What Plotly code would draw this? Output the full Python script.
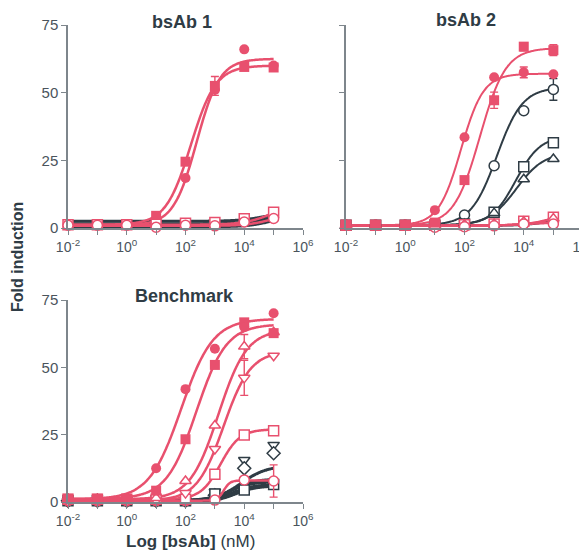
import numpy as np
import plotly.graph_objects as go

# ---------------- data ----------------
conc = [0.01, 0.1, 1, 10, 100, 1000, 10000, 100000]

# bsAb 1 (measured points)
b1_red_circle = [1.0, 1.0, 1.0, 2.5, 18.5, 51.0, 66.0, 60.0]
b1_red_square = [1.2, 1.2, 1.2, 4.5, 24.5, 52.5, 59.5, 59.3]
b1_red_square_err = [0, 0, 0, 0, 0, 3.5, 0, 0]
b1_red_open_square = [1.2, 1.2, 1.2, 1.4, 1.8, 2.0, 3.4, 5.8]
b1_red_open_circle = [1.0, 1.0, 1.0, 0.3, 1.0, 0.8, 2.2, 3.5]

# bsAb 2
b2_red_square = [1.0, 1.0, 1.0, 2.0, 17.7, 47.2, 67.0, 65.7]
b2_red_square_err = [0, 0, 0, 0, 0, 3.0, 1.5, 2.0]
b2_red_circle = [1.0, 1.0, 1.0, 6.6, 33.5, 55.7, 57.5, 56.8]
b2_red_circle_err = [0, 0, 0, 0, 0, 0, 2.0, 0]
b2_dark_open_circle = [1.0, 1.0, 1.0, 1.2, 4.8, 23.0, 43.3, 51.2]
b2_dark_open_circle_err = [0, 0, 0, 0, 0, 0, 0, 4.0]
b2_dark_open_square = [1.0, 1.0, 1.0, 1.0, 1.5, 5.8, 22.6, 31.5]
b2_dark_open_triangle = [1.0, 1.0, 1.0, 1.0, 1.5, 5.5, 18.0, 25.5]
b2_red_open_square = [1.0, 1.0, 1.0, 1.0, 1.2, 1.5, 2.5, 4.0]
b2_red_open_triangle = [1.0, 1.0, 1.0, 1.0, 1.2, 1.5, 2.3, 3.5]
b2_red_open_circle = [1.0, 1.0, 1.0, 0.3, 0.5, 0.8, 1.5, 1.5]

# Benchmark
bm_red_circle = [1.0, 1.0, 1.0, 12.5, 41.9, 56.9, 65.0, 70.1]
bm_red_square = [1.2, 1.2, 1.2, 4.2, 23.3, 50.9, 66.7, 62.7]
bm_red_open_tri_up = [1.0, 1.0, 1.0, 1.5, 7.8, 28.4, 57.7, 63.0]
bm_red_open_tri_up_err = [0, 0, 0, 0, 0, 0, 4.5, 0]
bm_red_open_tri_down = [0.3, 0.3, 0.3, 0.5, 3.3, 19.7, 46.1, 54.3]
bm_red_open_tri_down_err = [0, 0, 0, 0, 0, 0, 6.5, 0]
bm_red_open_square = [1.0, 1.0, 1.0, 1.0, 1.0, 10.3, 24.9, 26.5]
bm_red_open_circle = [0.5, 0.5, 0.5, 0.5, 0.5, 0.7, 8.2, 7.8]
bm_red_open_circle_err = [0, 0, 0, 0, 0, 0, 0, 6.0]
bm_dark_open_tri_down = [0.5, 0.5, 0.5, 0.5, 0.5, 3.8, 15.6, 21.2]
bm_dark_open_diamond = [0.5, 0.5, 0.5, 0.5, 0.5, 2.5, 12.5, 18.1]
bm_dark_open_square = [0.5, 0.5, 0.5, 0.5, 0.5, 3.0, 4.5, 6.5]

# 4-parameter logistic fits: [bottom, top, logEC50, hill]
fit_b1_red_circle = [1.0, 62.5, 2.38, 1.1]
fit_b1_red_square = [1.2, 60.0, 2.18, 1.02]
fit_b1_red_open_square = [1.2, 10.0, 5.0, 0.9]
fit_b1_red_open_circle = [0.8, 6.0, 5.0, 1.0]
fit_b1_dark = [[2.5, 6.0, 4.7, 1.0], [1.5, 5.5, 4.8, 1.0], [0.5, 4.0, 4.8, 1.2]]

fit_b2_red_square = [1.0, 66.5, 2.52, 1.0]
fit_b2_red_circle = [1.0, 57.0, 1.88, 1.15]
fit_b2_dark_open_circle = [1.0, 52.0, 3.09, 1.0]
fit_b2_dark_open_square = [1.0, 34.0, 3.73, 1.05]
fit_b2_dark_open_triangle = [1.0, 28.0, 3.75, 0.93]
fit_b2_red_open_square = [1.0, 8.0, 5.2, 0.9]
fit_b2_red_open_triangle = [1.0, 7.0, 5.2, 0.9]
fit_b2_red_open_circle = [0.8, 2.0, 4.0, 1.0]
fit_b2_dark = [[1.0, 5.0, 5.0, 1.0], [0.8, 4.0, 4.9, 1.0]]

fit_bm_red_circle = [1.0, 68.0, 1.85, 0.8]
fit_bm_red_square = [1.2, 66.0, 2.37, 0.85]
fit_bm_red_open_tri_up = [1.0, 64.0, 3.12, 0.9]
fit_bm_red_open_tri_down = [0.5, 56.0, 3.30, 0.95]
fit_bm_red_open_square = [1.0, 27.0, 3.19, 1.31]
fit_bm_red_open_circle = [0.5, 8.0, 3.3, 4.0]
fit_bm_dark_open_tri_down = [0.5, 13.5, 3.9, 1.0]
fit_bm_dark_open_diamond = [0.5, 8.5, 3.6, 1.2]
fit_bm_dark_open_square = [0.5, 7.5, 3.5, 1.2]
fit_bm_dark = [[0.3, 6.5, 3.6, 1.2], [0.0, 6.0, 3.7, 1.2]]

x_tickvals = [0.01, 0.1, 1, 10, 100, 1000, 10000, 100000, 1000000]
x_ticktext = ["10<sup>-2</sup>", "", "10<sup>0</sup>", "", "10<sup>2</sup>", "",
              "10<sup>4</sup>", "", "10<sup>6</sup>"]
y_tickvals = [0, 25, 50, 75]
panel_titles = ["bsAb 1", "bsAb 2", "Benchmark"]

# ---------------- style ----------------
RED = "#E8506E"
DARK = "#2F3C45"
AXIS = "#7E868C"
TXT = "#4A545C"
FONT = "Liberation Sans"

fig = go.Figure()
xfit = np.logspace(-2, 5, 200)


def logistic(p):
    b, t, c, h = p
    return b + (t - b) / (1 + 10 ** (h * (c - np.log10(xfit))))


def curve(p, color, ax, width=2.5):
    fig.add_trace(go.Scatter(x=xfit, y=logistic(p), mode="lines",
                             line=dict(color=color, width=width, shape="spline"),
                             xaxis=ax[0], yaxis=ax[1], showlegend=False,
                             hoverinfo="skip", cliponaxis=False))


def points(y, color, symbol, filled, ax, err=None, size=10):
    m = dict(symbol=symbol, size=size,
             color=color if filled else "white",
             line=dict(color=color, width=1.5 if not filled else 0))
    e = None
    if err is not None:
        e = dict(type="data", array=err, visible=True, color=color,
                 thickness=1.4, width=4)
    fig.add_trace(go.Scatter(x=conc, y=y, mode="markers", marker=m, error_y=e,
                             xaxis=ax[0], yaxis=ax[1], showlegend=False,
                             cliponaxis=False))


A1, A2, A3 = ("x", "y"), ("x2", "y2"), ("x3", "y3")

# ----- bsAb 1 -----
for p in fit_b1_dark:
    curve(p, DARK, A1, 3)
curve(fit_b1_red_open_square, RED, A1)
curve(fit_b1_red_open_circle, RED, A1)
curve(fit_b1_red_circle, RED, A1)
curve(fit_b1_red_square, RED, A1)
points(b1_red_circle, RED, "circle", True, A1)
points(b1_red_square, RED, "square", True, A1, err=b1_red_square_err)
points(b1_red_open_square, RED, "square", False, A1)
points(b1_red_open_circle, RED, "circle", False, A1)

# ----- bsAb 2 -----
for p in fit_b2_dark:
    curve(p, DARK, A2, 2)
curve(fit_b2_dark_open_circle, DARK, A2, 2)
curve(fit_b2_dark_open_square, DARK, A2, 2)
curve(fit_b2_dark_open_triangle, DARK, A2, 2)
curve(fit_b2_red_open_square, RED, A2, 2)
curve(fit_b2_red_open_triangle, RED, A2, 2)
curve(fit_b2_red_open_circle, RED, A2, 2.5)
curve(fit_b2_red_square, RED, A2, 2)
curve(fit_b2_red_circle, RED, A2, 2)
points(b2_dark_open_circle, DARK, "circle", False, A2, err=b2_dark_open_circle_err)
points(b2_dark_open_square, DARK, "square", False, A2)
points(b2_dark_open_triangle, DARK, "triangle-up", False, A2)
points(b2_red_open_square, RED, "square", False, A2)
points(b2_red_open_triangle, RED, "triangle-up", False, A2)
points(b2_red_open_circle, RED, "circle", False, A2)
points(b2_red_square, RED, "square", True, A2, err=b2_red_square_err)
points(b2_red_circle, RED, "circle", True, A2, err=b2_red_circle_err)

# ----- Benchmark -----
for p in fit_bm_dark:
    curve(p, DARK, A3, 3)
curve(fit_bm_dark_open_tri_down, DARK, A3, 3)
curve(fit_bm_dark_open_diamond, DARK, A3, 3)
curve(fit_bm_dark_open_square, DARK, A3, 3)
points(bm_dark_open_tri_down, DARK, "triangle-down", False, A3)
points(bm_dark_open_diamond, DARK, "diamond", False, A3)
points(bm_dark_open_square, DARK, "square", False, A3)
curve(fit_bm_red_open_circle, RED, A3)
curve(fit_bm_red_open_square, RED, A3)
curve(fit_bm_red_open_tri_down, RED, A3)
curve(fit_bm_red_open_tri_up, RED, A3)
curve(fit_bm_red_square, RED, A3)
curve(fit_bm_red_circle, RED, A3)
points(bm_red_open_circle, RED, "circle", False, A3, err=bm_red_open_circle_err)
points(bm_red_open_square, RED, "square", False, A3)
points(bm_red_open_tri_down, RED, "triangle-down", False, A3, err=bm_red_open_tri_down_err)
points(bm_red_open_tri_up, RED, "triangle-up", False, A3, err=bm_red_open_tri_up_err)
points(bm_red_square, RED, "square", True, A3)
points(bm_red_circle, RED, "circle", True, A3)

# ---------------- layout ----------------
# the page body adds an 8 px margin, so the figure is drawn 8 px smaller
OFF = 8
W, H = 587 - OFF, 554 - OFF


def px_x(a):
    return (a - OFF) / W


def px_y(a):
    return 1 - (a - OFF) / H


def xd(a, b):
    return [px_x(a), px_x(b)]


def yd(top, bottom):
    return [px_y(bottom), px_y(top)]


xcommon = dict(type="log", range=[-2, 6], tickvals=x_tickvals, ticktext=x_ticktext,
               ticks="outside", ticklen=5, tickwidth=1.3, tickcolor=AXIS,
               showline=True, linecolor=AXIS, linewidth=1.5, showgrid=False,
               zeroline=False, automargin=False, ticklabeloverflow="allow",
               tickfont=dict(family=FONT, size=14, color=TXT))
ycommon = dict(range=[0, 75], tickvals=y_tickvals, ticks="outside", ticklen=5,
               tickwidth=1.3, tickcolor=AXIS, showline=True, linecolor=AXIS,
               linewidth=1.5, showgrid=False, zeroline=False, automargin=False,
               tickfont=dict(family=FONT, size=15, color=TXT))

layout = dict(
    width=W, height=H, margin=dict(l=0, r=0, t=0, b=0, autoexpand=False),
    paper_bgcolor="white", plot_bgcolor="white", showlegend=False,
    xaxis=dict(xcommon, domain=xd(68, 303), anchor="y"),
    yaxis=dict(ycommon, domain=yd(25, 228), anchor="x"),
    xaxis2=dict(xcommon, domain=xd(346, 583), anchor="y2"),
    yaxis2=dict(ycommon, domain=yd(25, 228), anchor="x2", showticklabels=False),
    xaxis3=dict(xcommon, domain=xd(68, 303), anchor="y3"),
    yaxis3=dict(ycommon, domain=yd(300, 502), anchor="x3"),
)
fig.update_layout(**layout)

title_pos = [(182, 22), (466, 20), (184, 296)]
for t, (px, py) in zip(panel_titles, title_pos):
    fig.add_annotation(x=px_x(px), y=px_y(py), xref="paper", yref="paper",
                       xanchor="center", yanchor="middle",
                       text="<b>" + t + "</b>", showarrow=False,
                       font=dict(family=FONT, size=18, color=DARK))

fig.add_annotation(x=px_x(18), y=px_y(257), xref="paper", yref="paper",
                   xanchor="center", yanchor="middle",
                   text="<b>Fold induction</b>", textangle=-90, showarrow=False,
                   font=dict(family=FONT, size=16, color=DARK))
fig.add_annotation(x=px_x(190), y=px_y(541), xref="paper", yref="paper",
                   xanchor="center", yanchor="middle",
                   text="<b>Log [bsAb]</b> (nM)", showarrow=False,
                   font=dict(family=FONT, size=17, color=DARK))

fig.write_html("out.html")
